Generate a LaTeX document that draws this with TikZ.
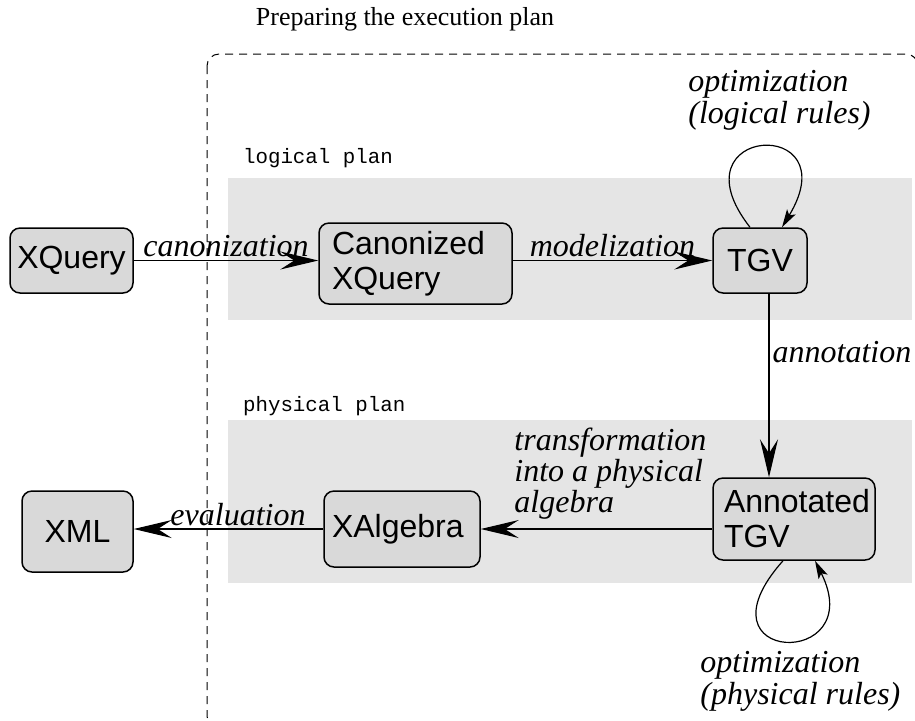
\documentclass[tikz,border=0pt]{standalone}
\usepackage{fontspec}
\setmainfont{Liberation Serif}
\setsansfont{Liberation Sans}
\setmonofont{Liberation Mono}
\usepackage{tikz}
\usetikzlibrary{positioning, arrows.meta}
\definecolor{boxgray}{gray}{0.85}
\definecolor{bandgray}{gray}{0.9}

\begin{document}
\begin{tikzpicture}[x=0.5pt, y=-0.5pt,
        stage/.style={draw, rounded corners=5pt, fill=boxgray, line width=0.75pt, inner sep=0pt, align=left, font=\sffamily\fontsize{16}{17.5}\selectfont},
        flow/.style={-{Stealth[length=19pt, width=9pt, inset=7pt]}, line width=0.6pt},
        loop/.style={-{Stealth[length=9pt, width=5pt, inset=2pt]}, line width=0.6pt},
        step label/.style={font=\itshape\fontsize{16}{14}\selectfont, inner sep=1.5pt},
        plan label/.style={anchor=west, font=\ttfamily\fontsize{10.4}{12}\selectfont}]
        \useasboundingbox (0,0) rectangle (915,720);
        % title and dashed frame
        \node (title) at (405,19) {\fontsize{13}{15}\selectfont Preparing the execution plan};
        \begin{scope}
            \clip (0,0) rectangle (915,720);
            \draw[dashed, dash pattern=on 4pt off 3pt, line width=0.5pt, rounded corners=6pt] (207,54) rectangle (918,728);
        \end{scope}
        % logical and physical plan bands
        \fill[bandgray] (228,178) rectangle (912,320);
        \fill[bandgray] (228,420) rectangle (912,583);
        \node[plan label] (logical) at (236,158) {logical plan};
        \node[plan label] (physical) at (236,406) {physical plan};
        % stages
        \node[stage, minimum width=61.5pt, minimum height=32.5pt] (xquery) at (71.5,260.5) {XQuery};
        \node[stage, text width=83.5pt, inner xsep=6.5pt, minimum height=40.5pt] (canon) at (415.5,263.5) {Canonized\\XQuery};
        \node[stage, minimum width=47pt, minimum height=32.5pt] (tgv) at (760,260.5) {TGV};
        \node[stage, text width=70pt, inner xsep=5.5pt, minimum height=41pt] (ann) at (794,519) {Annotated\\TGV};
        \node[stage, text width=70pt, inner xsep=4pt, minimum height=38pt] (xalg) at (402,529) {XAlgebra};
        \node[stage, minimum width=55.5pt, minimum height=40.5pt] (xml) at (77.5,531.5) {XML};
        % transitions
        \draw[flow] (xquery.east) -- (canon.west |- xquery.east) node[step label, midway, above] {canonization};
        \draw[flow] (canon.east |- tgv.west) -- (tgv.west) node[step label, midway, above] {modelization};
        \draw[flow] ([xshift=4.5pt]tgv.south) -- ([xshift=4.5pt]tgv.south |- ann.north) node[step label, pos=0.32, right] {annotation};
        \draw[flow] (ann.west |- xalg.east) -- (xalg.east) node[step label, pos=0.87, anchor=south west, yshift=3pt, align=left] {transformation\\into a physical\\algebra};
        \draw[flow] (xalg.west) -- (xml.east |- xalg.west) node[step label, pos=0.45, above] {evaluation};
        % optimization loops
        \draw[loop] ([xshift=-5pt]tgv.north) .. controls (670,125) and (850,115) .. ([xshift=11pt]tgv.north);
        \node[step label, anchor=west, align=left, font=\itshape\fontsize{16}{16}\selectfont] (logrules) at (685,100) {optimization\\(logical rules)};
        \draw[loop] ([xshift=-5.5pt]ann.south) .. controls (690,665) and (870,670) .. ([xshift=10.5pt]ann.south);
        \node[step label, anchor=west, align=left, font=\itshape\fontsize{16}{16}\selectfont] (phyrules) at (697,681) {optimization\\(physical rules)};
    \end{tikzpicture}
\end{document}
